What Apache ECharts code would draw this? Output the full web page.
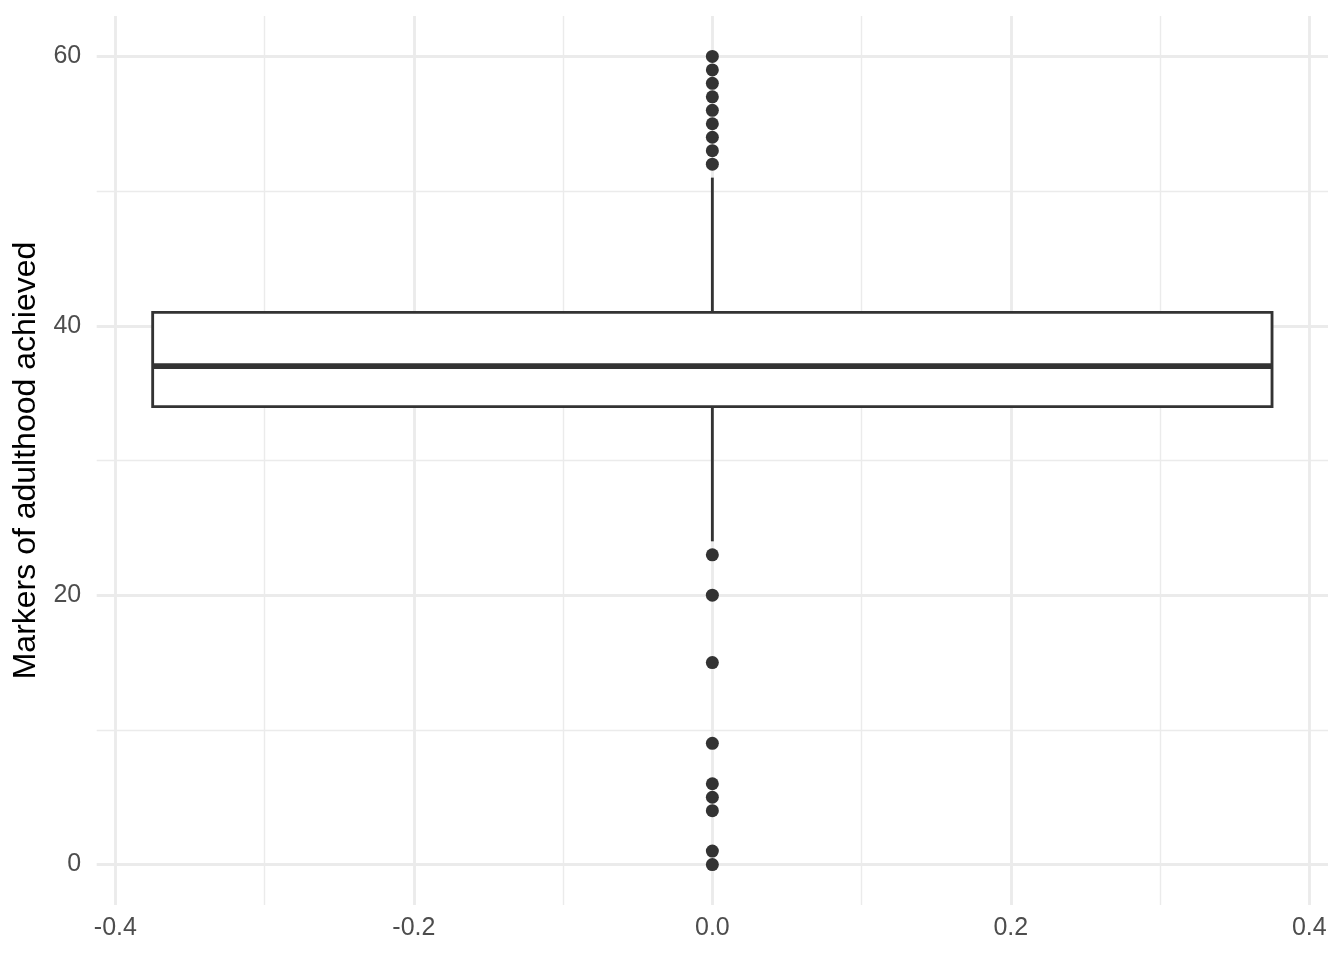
<!DOCTYPE html>
<html>
<head>
<meta charset="utf-8">
<title>Markers of adulthood achieved</title>
<script src="https://cdn.jsdelivr.net/npm/echarts@6/dist/echarts.min.js"></script>
<style>
  html, body { margin: 0; padding: 0; background: #fff; }
  #chart { width: 1344px; height: 960px; }
</style>
</head>
<body>
<div id="chart"></div>
<script>
// box summary: lower whisker, Q1, median, Q3, upper whisker
var boxStats = [24, 34, 37, 41, 51];
var boxX = 0;
var boxHalfWidth = 0.375;
// points beyond the whiskers
var outliers = [60, 59, 58, 57, 56, 55, 54, 53, 52, 23, 20, 15, 9, 6, 5, 4, 1, 0];
// axis ranges (ggplot-like 5% expansion) and tick steps
var xRange = [-0.4125, 0.4125];
var yRange = [-3, 63];
var xStep = 0.2;
var yStep = 20;

var ink = '#333333';
var gridCol = '#EBEBEB';
var textCol = '#4D4D4D';
var fontFam = '"Liberation Sans", Arial, Helvetica, sans-serif';

var chart = echarts.init(document.getElementById('chart'));

// 箱体 + 中位线 + 须线
function renderBox(params, api) {
    var x = api.value(0);
    var lo = api.value(1), q1 = api.value(2), med = api.value(3), q3 = api.value(4), hi = api.value(5);
    var hw = api.value(6);
    var pTL = api.coord([x - hw, q3]);
    var pBR = api.coord([x + hw, q1]);
    var pMedL = api.coord([x - hw, med]);
    var pMedR = api.coord([x + hw, med]);
    var pHi = api.coord([x, hi]);
    var pQ3 = api.coord([x, q3]);
    var pQ1 = api.coord([x, q1]);
    var pLo = api.coord([x, lo]);
    return {
        type: 'group',
        children: [
            { type: 'line', shape: { x1: pQ3[0], y1: pQ3[1], x2: pHi[0], y2: pHi[1] },
              style: { stroke: ink, lineWidth: 2.85 } },
            { type: 'line', shape: { x1: pQ1[0], y1: pQ1[1], x2: pLo[0], y2: pLo[1] },
              style: { stroke: ink, lineWidth: 2.85 } },
            { type: 'rect', shape: { x: pTL[0], y: pTL[1], width: pBR[0] - pTL[0], height: pBR[1] - pTL[1] },
              style: { fill: '#ffffff', stroke: ink, lineWidth: 2.85 } },
            { type: 'line', shape: { x1: pMedL[0], y1: pMedL[1], x2: pMedR[0], y2: pMedR[1] },
              style: { stroke: ink, lineWidth: 5.7 } }
        ]
    };
}

var option = {
    backgroundColor: '#ffffff',
    animation: false,
    grid: {
        left: 96.7, right: 16, top: 16, bottom: 55,
        containLabel: false,
        outerBoundsMode: 'none'
    },
    xAxis: {
        type: 'value',
        min: xRange[0],
        max: xRange[1],
        splitNumber: 4,
        minInterval: xStep,
        maxInterval: xStep,
        axisLine: { show: false },
        axisTick: { show: false },
        axisLabel: {
            color: textCol, fontSize: 25, fontFamily: fontFam, margin: 11,
            showMinLabel: false, showMaxLabel: false,
            formatter: function (v) { return v.toFixed(1); }
        },
        splitLine: { show: true, showMinLine: false, showMaxLine: false,
                     lineStyle: { color: gridCol, width: 2.85 } },
        minorTick: { show: false, splitNumber: 2 },
        minorSplitLine: { show: true, lineStyle: { color: gridCol, width: 1.42 } }
    },
    yAxis: {
        type: 'value',
        min: yRange[0],
        max: yRange[1],
        splitNumber: 3,
        minInterval: yStep,
        maxInterval: yStep,
        name: 'Markers of adulthood achieved',
        nameLocation: 'middle',
        nameGap: 47,
        nameTextStyle: { color: '#000000', fontSize: 32, fontFamily: fontFam },
        axisLine: { show: false },
        axisTick: { show: false },
        axisLabel: {
            color: textCol, fontSize: 25, fontFamily: fontFam, margin: 15.5,
            showMinLabel: false, showMaxLabel: false
        },
        splitLine: { show: true, showMinLine: false, showMaxLine: false,
                     lineStyle: { color: gridCol, width: 2.85 } },
        minorTick: { show: false, splitNumber: 2 },
        minorSplitLine: { show: true, lineStyle: { color: gridCol, width: 1.42 } }
    },
    series: [
        {
            type: 'custom',
            renderItem: renderBox,
            data: [[boxX].concat(boxStats).concat([boxHalfWidth])],
            encode: { x: 0, y: [1, 2, 3, 4, 5] },
            silent: true,
            z: 2
        },
        {
            type: 'scatter',
            data: outliers.map(function (v) { return [boxX, v]; }),
            symbol: 'circle',
            symbolSize: 13,
            itemStyle: { color: ink, opacity: 1 },
            silent: true,
            z: 3
        }
    ]
};
chart.setOption(option);
</script>
</body>
</html>
